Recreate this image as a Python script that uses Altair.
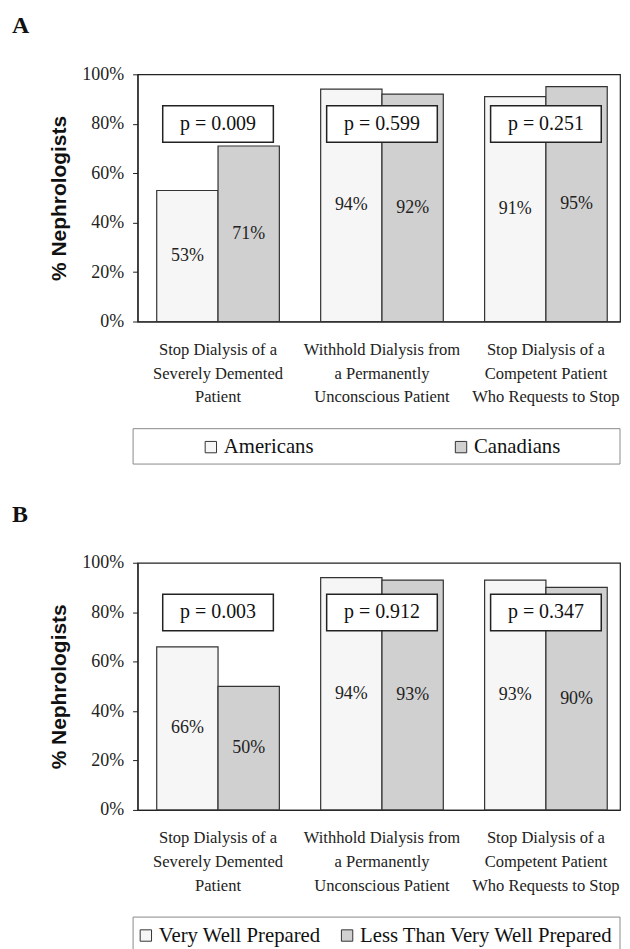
import altair as alt
import pandas as pd

# ---------------- data ----------------
panel_letters = ["A", "B"]

categories = [
    "Stop Dialysis of a\nSeverely Demented\nPatient",
    "Withhold Dialysis from\na Permanently\nUnconscious Patient",
    "Stop Dialysis of a\nCompetent Patient\nWho Requests to Stop",
]

series_a = ["Americans", "Canadians"]
americans = [53, 94, 91]
canadians = [71, 92, 95]
p_values_a = ["p = 0.009", "p = 0.599", "p = 0.251"]

series_b = ["Very Well Prepared", "Less Than Very Well Prepared"]
very_well = [66, 94, 93]
less_than = [50, 93, 90]
p_values_b = ["p = 0.003", "p = 0.912", "p = 0.347"]

tick_values = [0, 20, 40, 60, 80, 100]

# ---------------- styling ----------------
fills = ["#f6f6f6", "#d0d0d0"]
SERIF = "Liberation Serif"
SANS = "Liberation Sans"
W, H = 484, 248


def panel(letter, series, vals1, vals2, pvals, legend_range):
    rows = []
    for c, v1, v2 in zip(categories, vals1, vals2):
        rows.append({"category": c, "series": series[0], "value": v1})
        rows.append({"category": c, "series": series[1], "value": v2})
    df = pd.DataFrame(rows)
    pdf = pd.DataFrame({"category": categories, "p": pvals})
    ldf = pd.DataFrame({"series": series})

    xaxis = alt.Axis(
        title=None, labelAngle=0, labelExpr="split(datum.label, '\\n')",
        labelFont=SERIF, labelFontSize=16.6, labelLineHeight=23.7,
        labelPadding=20, ticks=False, tickSize=0, domainColor="#222",
        domainWidth=1.2, labelColor="#222", labelLimit=400,
        labelOverlap=False, labelBaseline="top",
    )
    x = alt.X("category:N", sort=categories,
              scale=alt.Scale(domain=categories, paddingInner=0.252,
                              paddingOuter=0.0973, align=0.6),
              axis=xaxis)
    xo = alt.XOffset("series:N",
                     scale=alt.Scale(domain=series, paddingInner=0, paddingOuter=0))
    color = alt.Color("series:N", scale=alt.Scale(domain=series, range=fills), legend=None)
    yaxis = alt.Axis(
        title="% Nephrologists", values=tick_values, labelExpr="datum.value + '%'",
        grid=False, tickSize=5, tickColor="#222", domainColor="#222", domainWidth=1.2,
        labelFont=SERIF, labelFontSize=18, labelPadding=9, labelColor="#222",
        labelFlush=False, titleFont=SANS, titleFontSize=21, titleFontWeight="bold",
        titlePadding=12, titleColor="#111",
    )
    yscale = alt.Scale(domain=[0, 100])

    bars = alt.Chart(df).mark_bar(stroke="#333", strokeWidth=1.2).encode(
        x=x, xOffset=xo, y=alt.Y("value:Q", scale=yscale, axis=yaxis), color=color
    )
    labels = alt.Chart(df).transform_calculate(
        half="datum.value / 2", lab="datum.value + '%'"
    ).mark_text(font=SERIF, fontSize=18, color="#222", baseline="middle").encode(
        x=x, xOffset=xo, y=alt.Y("half:Q", scale=yscale, axis=yaxis), text="lab:N"
    )
    pbox = alt.Chart(pdf).mark_bar(width=111, fill="white", stroke="#222",
                                   strokeWidth=1.5).encode(
        x=x, y=alt.datum(87.3), y2=alt.datum(72.5)
    )
    ptext = alt.Chart(pdf).mark_text(font=SERIF, fontSize=20, color="#111",
                                     baseline="middle").encode(
        x=x, y=alt.datum(80), text="p:N"
    )
    tag = alt.Chart(alt.InlineData(values=[{"t": letter}])).mark_text(
        font=SERIF, fontSize=24, fontWeight="bold", color="#111",
        align="left", baseline="alphabetic"
    ).encode(x=alt.value(-126), y=alt.value(-41), text="t:N")
    main = alt.layer(bars, labels, pbox, ptext, tag)

    lx = alt.X("series:N", axis=None,
               scale=alt.Scale(type="point", domain=series, range=legend_range, padding=0))
    lbox = alt.Chart(alt.InlineData(values=[{"k": 1}])).mark_rect(
        fillOpacity=0, stroke="#8a8a8a", strokeWidth=1
    ).encode(x=alt.value(-4.5), x2=alt.value(W), y=alt.value(355.5), y2=alt.value(391))
    lsym = alt.Chart(ldf).mark_point(shape="square", filled=True, size=130, stroke="#333",
                                     strokeWidth=1, opacity=1).encode(
        x=lx, y=alt.value(374), color=color
    )
    ltext = alt.Chart(ldf).mark_text(align="left", dx=13, baseline="middle", font=SERIF,
                                     fontSize=20.8, color="#111").encode(
        x=lx, y=alt.value(374), text="series:N"
    )
    legend = alt.layer(lbox, lsym, ltext)

    return alt.layer(main, legend).resolve_scale(x="independent").properties(
        width=W, height=H
    )


pa = panel(panel_letters[0], series_a, americans, canadians, p_values_a, [73.5, 324.5])
pb = panel(panel_letters[1], series_b, very_well, less_than, p_values_b, [8.3, 210.2])

chart = alt.vconcat(pa, pb, spacing=36).resolve_scale(
    x="independent", y="independent", color="independent", xOffset="independent"
).properties(
    padding={"left": 3, "top": 4, "right": 0, "bottom": 0}
).configure_view(stroke="#222", strokeWidth=1.2)

chart.save("out.html", embed_options={"renderer": "svg", "actions": False})
